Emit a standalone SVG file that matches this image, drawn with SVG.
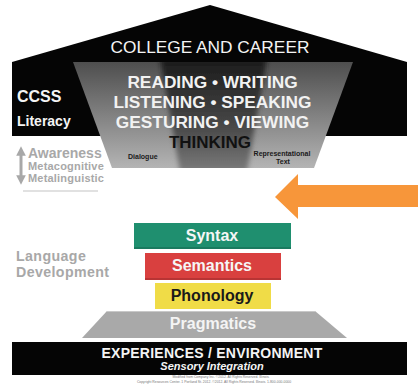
<svg xmlns="http://www.w3.org/2000/svg" width="418" height="386" viewBox="0 0 418 386">
  <style>
    .sans { font-family: "Liberation Sans", Arial, sans-serif; }
    .b { font-weight: bold; }
    .white { fill: #f4f4f4; }
    .gray { fill: #a8a8a8; }
    .mid { text-anchor: middle; }
    .skill { font-size: 17.3px; font-weight: bold; fill: #f2f2f2; text-anchor: middle; }
    .layer { font-size: 16px; font-weight: bold; text-anchor: middle; }
    .tiny { font-size: 7px; font-weight: bold; fill: #1a1a1a; }
  </style>
  <defs>
    <linearGradient id="funnelGrad" x1="0" y1="0" x2="0" y2="1">
      <stop offset="0" stop-color="#4e4e4e"/>
      <stop offset="1" stop-color="#b4b4b4"/>
    </linearGradient>
    <linearGradient id="coreGrad" x1="0" y1="0" x2="0" y2="1">
      <stop offset="0" stop-color="#1a1a1a"/>
      <stop offset="0.6" stop-color="#484848"/>
      <stop offset="1" stop-color="#7c7c7c"/>
    </linearGradient>
    <clipPath id="funnelClip">
      <polygon points="73,62 353,62 314,168 112,168"/>
    </clipPath>
    <filter id="soft" x="-20%" y="-20%" width="140%" height="140%">
      <feGaussianBlur stdDeviation="2.5"/>
    </filter>
    <marker id="grayHead" viewBox="0 0 10 10" refX="5" refY="5" markerWidth="3.2" markerHeight="3.2" orient="auto-start-reverse">
      <path d="M0,0 L10,5 L0,10 Z" fill="#a8a8a8"/>
    </marker>
  </defs>

  <rect width="418" height="386" fill="#ffffff"/>

  <!-- house: roof and literacy band -->
  <g id="house">
    <polygon points="210,5 407,62 407,136 12,136 12,62" fill="#050505"/>
    <text class="sans white mid" x="210" y="53" font-size="17.3">COLLEGE AND CAREER</text>
  </g>

  <!-- literacy funnel -->
  <g id="funnel">
    <polygon points="73,62 353,62 314,168 112,168" fill="url(#funnelGrad)"/>
    <g clip-path="url(#funnelClip)">
      <polygon points="160,58 267,58 247,172 180,172" fill="url(#coreGrad)" filter="url(#soft)"/>
    </g>
    <text class="sans skill" x="212.5" y="88">READING • WRITING</text>
    <text class="sans skill" x="212.5" y="108">LISTENING • SPEAKING</text>
    <text class="sans skill" x="212.5" y="128">GESTURING • VIEWING</text>
    <text class="sans b mid" x="210" y="148" font-size="17" fill="#111111">THINKING</text>
    <text class="sans tiny" x="128" y="159">Dialogue</text>
    <text class="sans tiny mid" x="282" y="156">Representational</text>
    <text class="sans tiny mid" x="283" y="164">Text</text>
  </g>

  <g id="ccss">
    <text class="sans b white" x="17" y="102" font-size="16">CCSS</text>
    <text class="sans b white" x="17" y="126" font-size="14">Literacy</text>
  </g>

  <g id="awareness">
    <text class="sans b gray" x="28" y="158" font-size="14">Awareness</text>
    <text class="sans b gray" x="28" y="170" font-size="11" letter-spacing="0.2">Metacognitive</text>
    <text class="sans b gray" x="28" y="182" font-size="11" letter-spacing="0.2">Metalinguistic</text>
    <line x1="23" y1="191" x2="98" y2="191" stroke="#c4c4c4" stroke-width="1.2"/>
  </g>

  <g id="language-development">
    <text class="sans b gray" x="16" y="261" font-size="14.2" letter-spacing="0.4">Language</text>
    <text class="sans b gray" x="16" y="277" font-size="14.2" letter-spacing="0.4">Development</text>
  </g>

  <!-- language layers, stacked from the base up -->
  <g id="pragmatics">
    <polygon points="107,311 315,311 347,338 82,338" fill="#a9a9a9"/>
    <line x1="107" y1="311.5" x2="315" y2="311.5" stroke="#c8c8c8" stroke-width="1"/>
    <text class="sans layer" x="213" y="329" fill="#f4f4f4">Pragmatics</text>
  </g>
  <g id="phonology">
    <rect x="155" y="283" width="116" height="26" fill="#f0dc47"/>
    <text class="sans layer" x="212" y="301" fill="#1a1a1a">Phonology</text>
  </g>
  <g id="semantics">
    <rect x="145" y="253" width="136" height="27" fill="#d9403f"/>
    <rect x="145" y="278" width="136" height="2" fill="#b83434"/>
    <text class="sans layer" x="212" y="271" fill="#f6f6f6">Semantics</text>
  </g>
  <g id="syntax">
    <rect x="134" y="223" width="157" height="26" fill="#1f8f6f"/>
    <rect x="134" y="247" width="157" height="2" fill="#1a7a5f"/>
    <text class="sans layer" x="212" y="241" fill="#f6f6f6">Syntax</text>
  </g>

  <g id="experiences">
    <rect x="12" y="342" width="395" height="33" fill="#050505"/>
    <text class="sans b white mid" x="212" y="358" font-size="14" letter-spacing="0.25">EXPERIENCES / ENVIRONMENT</text>
    <text class="sans b white mid" x="212" y="370" font-size="11" font-style="italic">Sensory Integration</text>
  </g>

  <g id="credit" class="sans" fill="#777777" font-size="3.4" text-anchor="middle">
    <text x="221" y="378">Modified from Company Inc. ©2012. All Rights Reserved. Illinois.</text>
    <text x="214" y="383">Copyright Resources Center. 1 Portland St. 2012. ©2012. All Rights Reserved. Illinois. 1-800-000-0000</text>
  </g>

  <!-- connectors -->
  <g id="connectors">
    <line x1="21" y1="151" x2="21" y2="180" stroke="#a8a8a8" stroke-width="3" marker-start="url(#grayHead)" marker-end="url(#grayHead)"/>
    <polygon points="275,197 298,174 298,185 418,185 418,207 298,207 298,219" fill="#f7963a"/>
  </g>
</svg>
